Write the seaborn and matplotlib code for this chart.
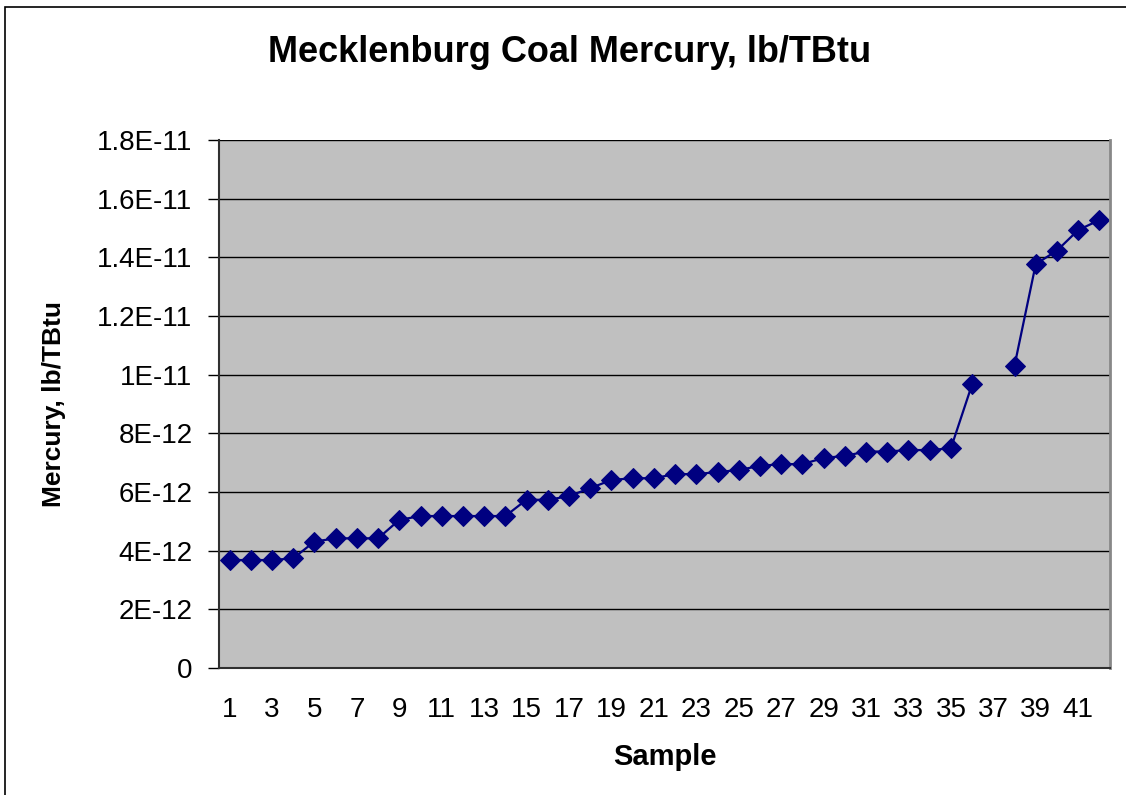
import numpy as np
import pandas as pd
import matplotlib
matplotlib.use("Agg")
import matplotlib.pyplot as plt
import matplotlib.patches as mpatches
from matplotlib.ticker import FixedLocator, FixedFormatter
import seaborn as sns

# mercury content per sample, in units of 1E-12 lb/TBtu (sample 37 has no value)
samples = list(range(1, 43))
mercury_e12 = [3.68, 3.68, 3.68, 3.74, 4.31, 4.42, 4.42, 4.42, 5.05, 5.18,
               5.18, 5.18, 5.18, 5.18, 5.74, 5.73, 5.86, 6.13, 6.41, 6.47,
               6.47, 6.61, 6.61, 6.68, 6.75, 6.89, 6.95, 6.95, 7.16, 7.23,
               7.38, 7.38, 7.43, 7.43, 7.49, 9.67, np.nan, 10.31, 13.77, 14.23,
               14.93, 15.27]
y_ticks = [0, 2e-12, 4e-12, 6e-12, 8e-12, 1e-11, 1.2e-11, 1.4e-11, 1.6e-11, 1.8e-11]
y_tick_labels = ["0", "2E-12", "4E-12", "6E-12", "8E-12", "1E-11",
                 "1.2E-11", "1.4E-11", "1.6E-11", "1.8E-11"]
x_tick_labels = [str(s) for s in samples[::2]]

df = pd.DataFrame({"sample": samples, "mercury": np.array(mercury_e12) * 1e-12})
# split into runs so the missing sample leaves a gap in the line
df["segment"] = df["mercury"].isna().cumsum()
df = df.dropna()

sns.set_style("white")
plt.rcParams["font.family"] = ["Liberation Sans", "DejaVu Sans"]
plt.rcParams.update({"text.color": "black", "axes.labelcolor": "black",
                     "xtick.color": "black", "ytick.color": "black"})

fig = plt.figure(figsize=(11.26, 7.95), dpi=100)
ax = fig.add_axes([219 / 1126, 1 - 668 / 795, (1110 - 219) / 1126, (668 - 140) / 795])

# outer chart border
fig.patches.append(mpatches.Rectangle((5 / 1126, -0.1), 1.2, 1.1 - 7 / 795,
                                      transform=fig.transFigure, fill=False,
                                      edgecolor="black", linewidth=1.2))

ax.set_facecolor("#c0c0c0")
sns.lineplot(data=df, x="sample", y="mercury", units="segment", estimator=None,
             color="#000080", marker="D", markersize=10, markeredgecolor="#000080",
             linewidth=1.6, ax=ax, legend=False)

ax.set_xlim(0.5, 42.5)
ax.set_ylim(0, 1.8e-11)

ax.yaxis.set_major_locator(FixedLocator(y_ticks))
ax.yaxis.set_major_formatter(FixedFormatter(y_tick_labels))
ax.grid(axis="y", color="black", linewidth=1.0)
ax.set_axisbelow(True)

ax.xaxis.set_major_locator(FixedLocator(samples[::2]))
ax.xaxis.set_major_formatter(FixedFormatter(x_tick_labels))
ax.xaxis.set_minor_locator(FixedLocator(np.arange(0.5, 43, 1)))
ax.tick_params(axis="x", which="major", length=0, pad=21, labelsize=20)
ax.tick_params(axis="x", which="minor", length=8, width=1, color="black", direction="out")
ax.tick_params(axis="y", which="major", length=8, width=1, color="black",
               direction="out", labelsize=20, pad=11, left=True)

for side in ["left", "bottom"]:
    ax.spines[side].set_color("#303030")
    ax.spines[side].set_linewidth(1.5)
ax.spines["right"].set_color("#888888")
ax.spines["right"].set_linewidth(2)
ax.spines["top"].set_visible(False)

ax.set_xlabel("Sample", fontsize=21, fontweight="bold")
ax.xaxis.set_label_coords(0.5, -0.142)
ax.set_ylabel("Mercury, lb/TBtu", fontsize=19, fontweight="bold")
ax.yaxis.set_label_coords(-0.172, 0.5)
fig.text(570 / 1126, 1 - 52 / 795, "Mecklenburg Coal Mercury, lb/TBtu",
         ha="center", va="center", fontsize=26, fontweight="bold")

plt.savefig("out.png", dpi=100)
